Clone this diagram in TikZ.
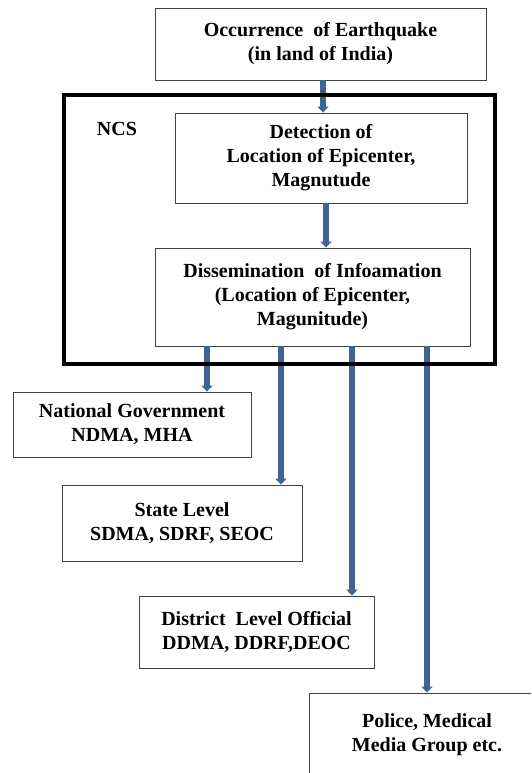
\documentclass[tikz,border=0pt]{standalone}
\usepackage{fontspec}
\setmainfont{Liberation Serif}
\usepackage{tikz}
\usetikzlibrary{arrows.meta,positioning}
\definecolor{arrowblue}{RGB}{63,100,148}
\tikzset{
  stagebox/.style={
    rectangle,
    draw=black!75,
    line width=0.9pt,
    fill=white,
    align=center,
    inner sep=2pt,
    font=\fontsize{20}{24}\selectfont\bfseries
  },
  ncsframe/.style={
    rectangle,
    draw=black,
    line width=4pt,
    inner sep=0pt
  },
  bluearrow/.style={
    -{Triangle[width=11pt,length=6pt]},
    line width=6pt,
    draw=arrowblue
  }
}

\begin{document}
\begin{tikzpicture}[x=1pt,y=-1pt]
\clip (0,0) rectangle (531,773);
\useasboundingbox (0,0) rectangle (531,773);
% boxes
\node[stagebox, minimum width=331pt, minimum height=72pt] (quake) at (320.5,44) {Occurrence\ \ of Earthquake\\(in land of India)};
\node[stagebox, minimum width=292pt, minimum height=90pt] (detect) at (321,158) {Detection of\\Location of Epicenter,\\Magnutude};
\node[stagebox, minimum width=315pt, minimum height=98pt] (dissem) at (312.5,297) {Dissemination\ \ of Infoamation\\(Location of Epicenter,\\Magunitude)};
\node[stagebox, minimum width=238pt, minimum height=65pt] (natl) at (132,424.5) {National Government\\NDMA, MHA};
\node[stagebox, minimum width=240pt, minimum height=76pt] (state) at (182,523) {State Level\\SDMA, SDRF, SEOC};
\node[stagebox, minimum width=235pt, minimum height=72pt] (district) at (256.5,632) {District\ \ Level Official\\DDMA, DDRF,DEOC};
\node[stagebox, minimum width=236pt, minimum height=84pt] (police) at (427,735) {Police, Medical\\Media Group etc.};
\node[font=\fontsize{20}{24}\selectfont\bfseries] (ncslabel) at (117,129) {NCS};

% outlets of the dissemination box
\coordinate (out1) at ([xshift=-105.5pt]dissem.south);
\coordinate (out2) at ([xshift=-31.5pt]dissem.south);
\coordinate (out3) at ([xshift=39.5pt]dissem.south);
\coordinate (out4) at ([xshift=114.5pt]dissem.south);

\draw[bluearrow] ([xshift=2.5pt]quake.south) -- ([xshift=2.5pt]quake.south |- detect.north);
\draw[bluearrow] ([xshift=5pt]detect.south) -- ([xshift=5pt]detect.south |- dissem.north);
\draw[bluearrow] (out1) -- (out1 |- natl.north);
\draw[bluearrow] (out2) -- (out2 |- state.north);
\draw[bluearrow] (out3) -- (out3 |- district.north);
\draw[bluearrow] (out4) -- (out4 |- police.north);

% NCS frame
\node[ncsframe, minimum width=431pt, minimum height=269pt] (ncs) at (279.5,229.5) {};
\end{tikzpicture}
\end{document}
